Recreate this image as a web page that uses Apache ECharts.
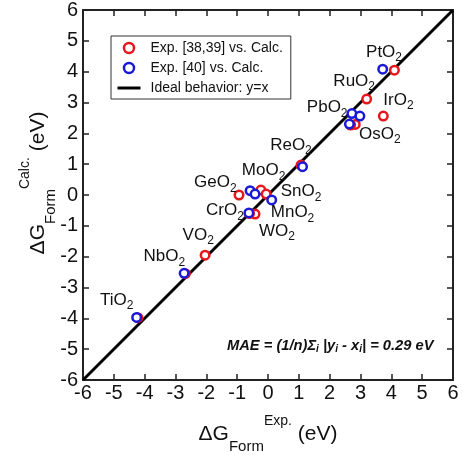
<!DOCTYPE html>
<html>
<head>
<meta charset="utf-8">
<script src="https://cdn.jsdelivr.net/npm/echarts@6/dist/echarts.min.js"></script>
<style>
  html, body { margin: 0; padding: 0; background: #fff; }
  #chart { width: 463px; height: 455px; }
</style>
</head>
<body>
<div id="chart"></div>
<script>
// Exp. [38,39] vs. Calc.
var redX = [4.10, 3.20, 3.74, 2.83, 2.68, 1.07, -0.94, -0.23, -0.06, -0.42, -0.60, -2.04, -2.68, -4.22];
var redY = [4.05, 3.11, 2.56, 2.29, 2.27, 0.97, 0.00, 0.16, 0.03, -0.62, -0.60, -1.95, -2.55, -3.98];
// Exp. [40] vs. Calc.
var blueX = [3.72, 2.72, 2.98, 2.64, 1.12, -0.58, -0.42, 0.12, -0.62, -2.72, -4.26];
var blueY = [4.08, 2.64, 2.56, 2.30, 0.92, 0.14, 0.03, -0.16, -0.58, -2.54, -3.97];
// y = x
var idealX = [-6, 6];
var idealY = [-6, 6];
var tickValues = [-6, -5, -4, -3, -2, -1, 0, 1, 2, 3, 4, 5, 6];

// compound labels and where they sit (axis units)
var compounds = ['PtO', 'RuO', 'IrO', 'PbO', 'OsO', 'ReO', 'MoO', 'GeO', 'SnO', 'CrO', 'MnO', 'WO', 'VO', 'NbO', 'TiO'];
var labelAnchorX = [3.18, 2.12, 3.74, 1.26, 2.95, 0.07, -0.85, -2.40, 0.41, -2.01, 0.09, -0.29, -2.77, -4.04, -5.45];
var labelAnchorY = [4.64, 3.70, 3.08, 2.84, 1.98, 1.62, 0.79, 0.40, 0.11, -0.51, -0.57, -1.17, -1.30, -2.00, -3.41];

var FONT = 'Liberation Sans';
var chart = echarts.init(document.getElementById('chart'));

function pairs(xs, ys) {
    return xs.map(function (x, i) { return [x, ys[i]]; });
}

var nameRich = {
    m: { fontSize: 21, lineHeight: 40, verticalAlign: 'middle', fontFamily: FONT, color: '#111' },
    sub: { fontSize: 15, lineHeight: 16, verticalAlign: 'bottom', fontFamily: FONT, color: '#111' },
    sup: { fontSize: 14, lineHeight: 22, verticalAlign: 'top', fontFamily: FONT, color: '#111' }
};

function axisBase(pos, showLabel) {
    return {
        type: 'value',
        position: pos,
        min: tickValues[0],
        max: tickValues[tickValues.length - 1],
        interval: 1,
        axisLine: { show: true, onZero: false, lineStyle: { color: '#222', width: 2 } },
        axisTick: { show: true, inside: true, length: 6, lineStyle: { color: '#222', width: 1.5 } },
        axisLabel: { show: showLabel, fontSize: 20, fontFamily: FONT, color: '#111', margin: 3 },
        splitLine: { show: false }
    };
}

var xMain = axisBase('bottom', true);
xMain.name = '{m|ΔG}{sub|Form}{sup|Exp.}{m| (eV)}';
xMain.nameLocation = 'middle';
xMain.nameGap = 34;
xMain.nameMoveOverlap = false;
xMain.nameTextStyle = { rich: nameRich };

var yMain = axisBase('left', true);
yMain.axisLabel.margin = 5;
yMain.name = '{m|ΔG}{sub|Form}{sup|Calc.}{m| (eV)}';
yMain.nameLocation = 'middle';
yMain.nameRotate = 90;
yMain.nameGap = 25;
yMain.nameMoveOverlap = false;
yMain.nameTextStyle = { rich: nameRich, padding: [0, 0, 0, 24] };

var option = {
    animation: false,
    backgroundColor: '#fff',
    grid: { left: 83, right: 10, top: 10, bottom: 75, containLabel: false, outerBoundsMode: 'none' },
    xAxis: [xMain, axisBase('top', false)],
    yAxis: [yMain, axisBase('right', false)],
    legend: {
        orient: 'vertical',
        left: 111,
        top: 36,
        padding: [2, 8, 1, 5],
        borderColor: '#333',
        borderWidth: 1,
        backgroundColor: '#fff',
        itemWidth: 23,
        itemHeight: 10,
        itemGap: 0,
        textStyle: { fontSize: 14, lineHeight: 20, fontFamily: FONT, color: '#111', padding: [0, 0, 0, 5] },
        data: [
            { name: 'Exp. [38,39] vs. Calc.', icon: 'circle', itemStyle: { color: '#fff', borderColor: '#e8161b', borderWidth: 2.5 } },
            { name: 'Exp. [40] vs. Calc.', icon: 'circle', itemStyle: { color: '#fff', borderColor: '#1a1ad6', borderWidth: 2.5 } },
            { name: 'Ideal behavior: y=x', itemStyle: { opacity: 0 }, lineStyle: { color: '#000', width: 3 } }
        ]
    },
    graphic: [{
        type: 'text',
        left: 227,
        top: 338,
        style: {
            text: '{b|MAE = (1/n)Σ}{s|i}{b| |y}{s|i}{b| - x}{s|i}{b|| = 0.29 eV}',
            rich: {
                b: { fontSize: 14.7, fontWeight: 'bold', fontStyle: 'italic', fontFamily: FONT, fill: '#111', lineHeight: 18, verticalAlign: 'middle' },
                s: { fontSize: 10, fontWeight: 'bold', fontStyle: 'italic', fontFamily: FONT, fill: '#111', lineHeight: 8, verticalAlign: 'bottom' }
            }
        }
    }],
    series: [{
        name: 'Ideal behavior: y=x',
        type: 'line',
        data: pairs(idealX, idealY),
        symbol: 'none',
        itemStyle: { color: '#000' },
        lineStyle: { color: '#000', width: 3 },
        z: 1
    }, {
        name: 'Exp. [38,39] vs. Calc.',
        type: 'scatter',
        data: pairs(redX, redY),
        symbol: 'circle',
        symbolSize: 8.5,
        itemStyle: { color: '#fff', borderColor: '#e8161b', borderWidth: 2.5, opacity: 1 },
        z: 3
    }, {
        name: 'Exp. [40] vs. Calc.',
        type: 'scatter',
        data: pairs(blueX, blueY),
        symbol: 'circle',
        symbolSize: 8.5,
        itemStyle: { color: '#fff', borderColor: '#1a1ad6', borderWidth: 2.5, opacity: 1 },
        z: 4
    }, {
        name: 'labels',
        type: 'scatter',
        symbolSize: 0,
        silent: true,
        itemStyle: { opacity: 1 },
        data: compounds.map(function (c, i) { return { value: [labelAnchorX[i], labelAnchorY[i]], name: c }; }),
        label: {
            show: true,
            position: [0, 0],
            align: 'left',
            verticalAlign: 'middle',
            formatter: '{m|{b}}{s|2}',
            rich: {
                m: { fontSize: 17, lineHeight: 24, verticalAlign: 'middle', fontFamily: FONT, color: '#111' },
                s: { fontSize: 12, lineHeight: 10, verticalAlign: 'bottom', fontFamily: FONT, color: '#111' }
            }
        },
        z: 5
    }]
};

chart.setOption(option);
</script>
</body>
</html>
